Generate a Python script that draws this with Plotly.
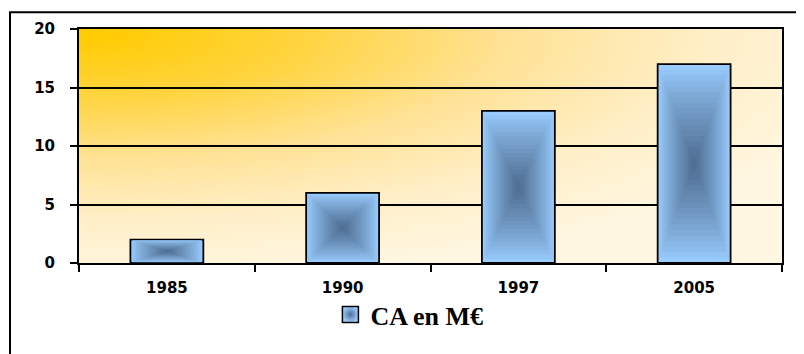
import base64
import plotly.graph_objects as go

# ---- data ----
years = ["1985", "1990", "1997", "2005"]
ca_values = [2, 6, 13, 17]
series_name = "CA en M€"
y_ticks = [0, 5, 10, 15, 20]

# ---- style ----
BAR_WIDTH = 0.415
N_LEVELS = 18
OUTER = (0x99, 0xCC, 0xFF)
INNER = (0x50, 0x6F, 0x93)
PAGE_OFFSET = 8  # default body margin of the page


def mix(a, b, t):
    return "rgb(%d,%d,%d)" % tuple(round(a[i] + (b[i] - a[i]) * t) for i in range(3))


# background gradient as an SVG image
svg = (
    '<svg xmlns="http://www.w3.org/2000/svg" width="703" height="236" viewBox="0 0 703 236" '
    'preserveAspectRatio="none">'
    '<defs><radialGradient id="g" gradientUnits="userSpaceOnUse" cx="0" cy="0" r="1" '
    'gradientTransform="translate(15,5) scale(820,250)">'
    '<stop offset="0" stop-color="#FFCB00"/>'
    '<stop offset="0.25" stop-color="#FFD43E"/>'
    '<stop offset="0.5" stop-color="#FFE294"/>'
    '<stop offset="0.75" stop-color="#FFEFC8"/>'
    '<stop offset="1" stop-color="#FFF7E2"/>'
    '</radialGradient></defs>'
    '<rect x="0" y="0" width="703" height="236" fill="url(#g)"/></svg>'
)
bg_uri = "data:image/svg+xml;base64," + base64.b64encode(svg.encode()).decode()

fig = go.Figure()

for k in range(N_LEVELS):
    f = k / N_LEVELS
    t = min(1.0, (k / (N_LEVELS - 1)) ** 0.85)
    fig.add_trace(go.Bar(
        x=years,
        y=[v * (1 - f) for v in ca_values],
        base=[v * f / 2 for v in ca_values],
        width=BAR_WIDTH * (1 - f),
        marker=dict(
            color=mix(OUTER, INNER, t),
            line=dict(color="black", width=1.8 if k == 0 else 0),
        ),
        name=series_name,
        legendgroup="ca",
        showlegend=False,
        hoverinfo="skip" if k else None,
    ))

# legend entry for the series (larger square symbol with gradient, like the original)
fig.add_trace(go.Scatter(
    x=[None], y=[None], mode="markers",
    name=series_name, legendgroup="ca", showlegend=True,
    marker=dict(
        symbol="square", size=16, color="rgb(153,204,255)",
        gradient=dict(type="radial", color="rgb(80,111,147)"),
        line=dict(color="black", width=1.5),
    ),
))

W, H = 804 - PAGE_OFFSET, 354 - PAGE_OFFSET
L, T = 79 - PAGE_OFFSET, 27 - PAGE_OFFSET
PW, PH = 703, 236

fig.update_layout(
    width=W,
    height=H,
    margin=dict(l=L, r=W - L - PW, t=T, b=H - T - PH),
    barmode="overlay",
    paper_bgcolor="white",
    plot_bgcolor="rgba(0,0,0,0)",
    images=[dict(
        source=bg_uri, xref="paper", yref="paper", x=0, y=1,
        sizex=1, sizey=1, xanchor="left", yanchor="top",
        sizing="stretch", layer="below",
    )],
    showlegend=True,
    legend=dict(
        orientation="h", x=0.47, xanchor="center", y=-0.22, yanchor="middle",
        font=dict(family="Liberation Serif", size=26, color="black", weight="bold"),
        bgcolor="rgba(0,0,0,0)", itemsizing="trace",
    ),
    shapes=[dict(
        type="rect", xref="paper", yref="paper",
        x0=(10 - 79) / PW, x1=(812 - 79) / PW,
        y0=(263 - 362) / PH, y1=(263 - 10) / PH,
        line=dict(color="black", width=2), fillcolor="rgba(0,0,0,0)", layer="below",
    )],
)

fig.update_xaxes(
    type="category",
    categoryorder="array", categoryarray=years,
    showline=True, linecolor="black", linewidth=2, mirror=True,
    ticks="outside", tickson="boundaries", ticklen=7, tickwidth=2, tickcolor="black",
    showgrid=False,
    tickfont=dict(family="DejaVu Sans", size=15, color="black", weight="bold"),
    ticklabelstandoff=10,
)
fig.update_yaxes(
    range=[0, 20],
    tickvals=y_ticks,
    showline=True, linecolor="black", linewidth=2, mirror=True,
    ticks="outside", ticklen=7, tickwidth=2, tickcolor="black",
    showgrid=True, gridcolor="black", gridwidth=2,
    zeroline=False,
    tickfont=dict(family="DejaVu Sans", size=15, color="black", weight="bold"),
    ticklabelstandoff=12,
)

fig.write_html("out.html")
